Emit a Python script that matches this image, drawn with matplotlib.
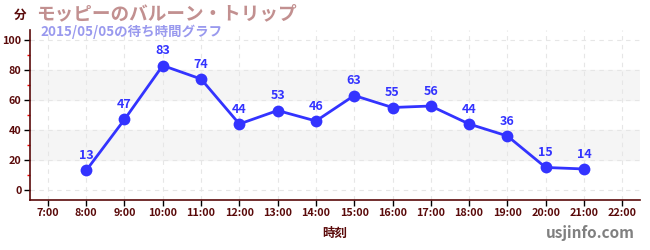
import matplotlib
matplotlib.use("Agg")
import matplotlib.pyplot as plt
from matplotlib.ticker import MultipleLocator

plt.rcParams['font.family'] = ['Noto Sans CJK JP', 'DejaVu Sans']

# wait times (minutes) by hour
hours = [8, 9, 10, 11, 12, 13, 14, 15, 16, 17, 18, 19, 20, 21]
waits = [13, 47, 83, 74, 44, 53, 46, 63, 55, 56, 44, 36, 15, 14]
tick_hours = list(range(7, 23))
tick_labels = [f"{h}:00" for h in tick_hours]

title = "モッピーのバルーン・トリップ"
subtitle = "2015/05/05の待ち時間グラフ"

maroon = "#5a0a0a"
blue = "#3333ff"

fig = plt.figure(figsize=(6.5, 2.5), dpi=100)
ax = fig.add_axes([0.046, 0.2, 0.939, 0.68])

ax.set_xlim(6.53, 22.47)
ax.set_ylim(-6.7, 106.7)

# alternating bands
for lo in (20, 60):
    ax.axhspan(lo, lo + 20, color="#f5f5f5", zorder=0)

ax.set_xticks(tick_hours)
ax.set_xticklabels(tick_labels)
ax.yaxis.set_major_locator(MultipleLocator(20))
ax.yaxis.set_minor_locator(MultipleLocator(10))
ax.grid(True, which="major", color="#e6e6e6", linestyle=(0, (4, 4)), linewidth=0.8, zorder=0)

for s in ("top", "right"):
    ax.spines[s].set_visible(False)
for s in ("left", "bottom"):
    ax.spines[s].set_color(maroon)
    ax.spines[s].set_linewidth(1.2)

ax.tick_params(axis="both", which="major", colors="black", length=4, width=1,
               labelcolor=maroon, labelsize=7.8, pad=2)
ax.tick_params(axis="y", which="minor", colors="red", length=2, width=1)
for lab in ax.get_xticklabels() + ax.get_yticklabels():
    lab.set_fontweight("bold")

ax.plot(hours, waits, color=blue, linewidth=2.0, marker="o", markersize=8.5,
        markeredgewidth=0, zorder=3)
for h, w in zip(hours, waits):
    ax.annotate(str(w), (h, w), xytext=(0, 6), textcoords="offset points",
                ha="center", va="bottom", color=blue, fontsize=9, fontweight="bold")

ax.set_xlabel("時刻", color=maroon, fontsize=9, fontweight="bold", labelpad=6)

fig.text(20 / 650, 1 - 15 / 250, "分", color=maroon, fontsize=9, fontweight="bold",
         ha="center", va="center")
fig.text(36 / 650, 1 - 14 / 250, title, color="#c29090", fontsize=13.4, fontweight="bold",
         ha="left", va="center")
fig.text(40 / 650, 1 - 32 / 250, subtitle, color="#9999ee", fontsize=9.7, fontweight="bold",
         ha="left", va="center")
fig.text(635 / 650, 1 - 233 / 250, "usjinfo.com", color="#808080", fontsize=11,
         fontweight="bold", ha="right", va="center")

fig.savefig("out.png", dpi=100)
